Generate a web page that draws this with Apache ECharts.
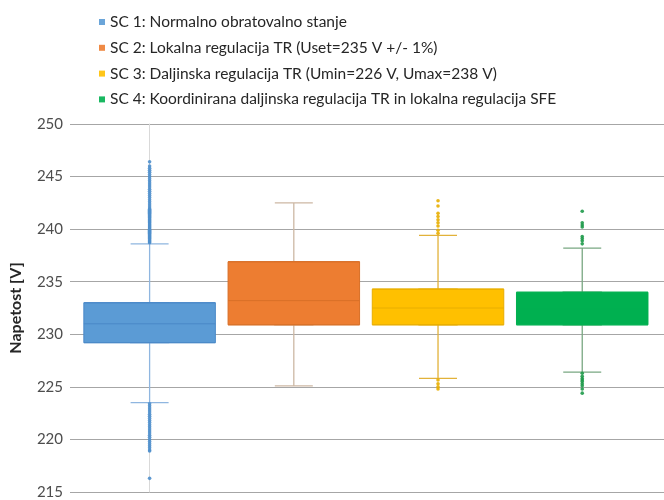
<!DOCTYPE html>
<html>
<head>
<meta charset="utf-8">
<script src="https://cdn.jsdelivr.net/npm/echarts@6/dist/echarts.min.js"></script>
<style>html,body{margin:0;padding:0;background:#fff}#c{width:664px;height:500px}</style>
</head>
<body>
<div id="c"></div>
<script>
// ---- data ----
const names = [
  'SC 1: Normalno obratovalno stanje',
  'SC 2: Lokalna regulacija TR (Uset=235 V +/- 1%)',
  'SC 3: Daljinska regulacija TR (Umin=226 V, Umax=238 V)',
  'SC 4: Koordinirana daljinska regulacija TR in lokalna regulacija SFE'
];
// [min(whisker), Q1, median, Q3, max(whisker)]
const sc1Box = [223.5, 229.2, 231.0, 233.0, 238.6];
const sc2Box = [225.1, 230.9, 233.2, 236.9, 242.5];
const sc3Box = [225.8, 230.9, 232.5, 234.3, 239.4];
const sc4Box = [226.4, 230.9, 232.4, 234.0, 238.2];
const sc1Outliers = [238.7, 238.8, 238.9, 239.0, 239.1, 239.2, 239.3, 239.4, 239.5, 239.6, 239.7, 239.8, 239.9, 240.0,
  240.1, 240.2, 240.3, 240.4, 240.5, 240.6, 240.7, 240.8, 240.9, 241.0, 241.1, 241.2, 241.3, 241.4, 241.5, 241.6,
  241.7, 241.8, 241.9, 242.0, 242.2, 242.4, 242.6, 242.8, 243.0, 243.2, 243.4, 243.6, 243.8, 244.0, 244.2, 244.4,
  244.6, 244.8, 245.0, 245.2, 245.4, 245.6, 245.8, 246.0, 246.4,
  223.4, 223.2, 223.0, 222.8, 222.6, 222.4, 222.2, 222.0, 221.8, 221.6, 221.4, 221.2, 221.0, 220.8, 220.6, 220.4,
  220.2, 220.0, 219.8, 219.6, 219.4, 219.2, 219.0, 218.9, 216.3];
const sc2Outliers = [];
const sc3Outliers = [242.7, 242.2, 241.5, 241.2, 240.9, 240.6, 240.3, 239.9, 239.6, 225.65, 225.3, 225.0, 224.8];
const sc4Outliers = [241.7, 240.6, 240.4, 240.2, 239.3, 239.1, 238.9, 238.6, 226.3, 226.0, 225.8, 225.65, 225.5, 225.3, 225.1, 224.8, 224.4];
const yTicks = {min: 215, max: 250, interval: 5};

// ---- styles ----
const fills = ['#5B9BD5', '#ED7D31', '#FFC000', '#00B050'];
const medianColors = ['#4A89C8', '#D86F27', '#E8AE00', '#00B050'];
const dotColors = ['#4F8FCC', '#D86F27', '#E8AE00', '#1E9A4A'];
const whiskerColors = ['#8FB6E0', '#CDB8A4', '#E2B23A', '#79A882'];
const boxes = [sc1Box, sc2Box, sc3Box, sc4Box];
const outliers = [sc1Outliers, sc2Outliers, sc3Outliers, sc4Outliers];

const series = [];
// whiskers + caps (narrow layer)
series.push({
  name: 'whiskers', type: 'boxplot', xAxisIndex: 0, boxWidth: [38, 38],
  data: boxes.map((b, i) => ({value: [i].concat(b),
    itemStyle: {color: fills[i], borderColor: whiskerColors[i], borderWidth: 1.3}})),
  emphasis: {disabled: true}, silent: true, z: 2
});
// wide box layer (Q1..Q3 with median)
series.push({
  name: 'boxes', type: 'boxplot', xAxisIndex: 1, boxWidth: [131.5, 131.5],
  data: boxes.map((b, i) => ({value: [i, b[1], b[1], b[2], b[3], b[3]],
    itemStyle: {color: fills[i], borderColor: medianColors[i], borderWidth: 1}})),
  emphasis: {disabled: true}, silent: true, z: 3
});
outliers.forEach((o, i) => {
  series.push({
    name: names[i], type: 'scatter', symbol: 'circle', symbolSize: 3.6, xAxisIndex: 0,
    data: o.map(v => [i, v]),
    itemStyle: {color: dotColors[i], opacity: 0.9},
    silent: true, z: 4
  });
});

const xAxisBase = {type: 'value', min: -0.552, max: 3.567, show: false, splitLine: {show: false}};

const chart = echarts.init(document.getElementById('c'), null, {renderer: 'canvas'});
chart.setOption({
  animation: false,
  textStyle: {fontFamily: 'Lato'},
  legend: {
    orient: 'vertical', left: 94, top: 9,
    icon: 'rect', itemWidth: 6, itemHeight: 6, itemGap: 9.8,
    textStyle: {fontFamily: 'Lato', fontSize: 15.5, color: '#262626', lineHeight: 15.7},
    data: names.map((n, i) => ({name: n, itemStyle: {color: fills[i], borderWidth: 0}}))
  },
  grid: {left: 67, right: 0, top: 124, bottom: 8},
  xAxis: [Object.assign({}, xAxisBase), Object.assign({}, xAxisBase)],
  yAxis: {
    type: 'value', min: yTicks.min, max: yTicks.max, interval: yTicks.interval,
    name: 'Napetost [V]', nameLocation: 'middle', nameGap: 46, nameRotate: 90,
    nameTextStyle: {fontFamily: 'Lato', fontSize: 16, fontWeight: 'bold', color: '#262626'},
    axisLine: {show: true, lineStyle: {color: '#D9D9D9', width: 1}},
    axisTick: {show: false},
    axisLabel: {fontFamily: 'Lato', fontSize: 15, color: '#4D4D4D', margin: 7},
    splitLine: {show: true, lineStyle: {color: '#A6A6A6', width: 1}}
  },
  series: series
});
</script>
</body>
</html>
